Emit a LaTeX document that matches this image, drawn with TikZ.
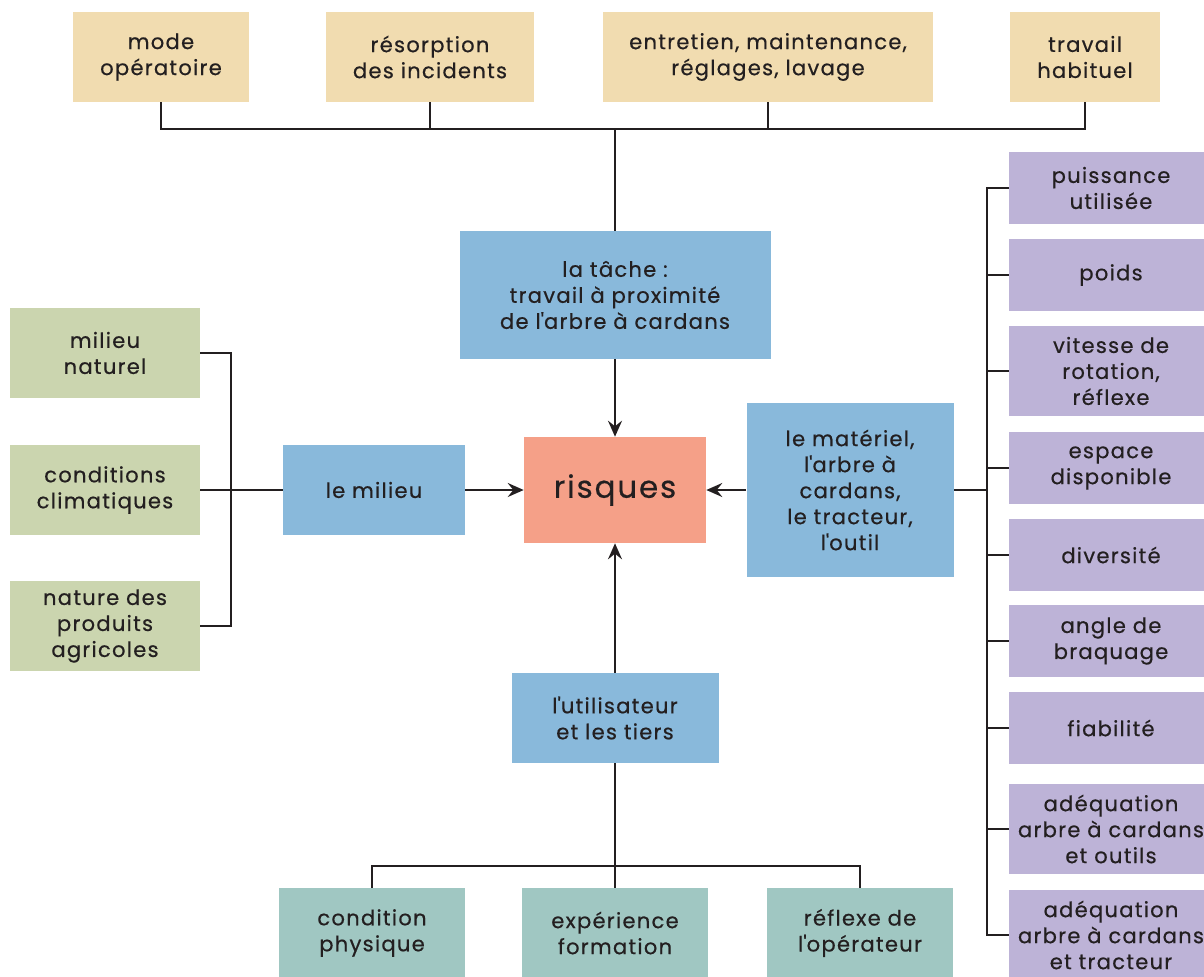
\documentclass[tikz,border=0pt]{standalone}
\usepackage{fontspec}
\setmainfont{Poppins}[LetterSpace=6,FakeBold=0.5]
\usetikzlibrary{arrows.meta}
\usetikzlibrary{positioning}

\definecolor{tan}{HTML}{F1DCB0}
\definecolor{bleu}{HTML}{89B9DB}
\definecolor{saumon}{HTML}{F5A088}
\definecolor{vert}{HTML}{CBD5AF}
\definecolor{mauve}{HTML}{BDB3D7}
\definecolor{canard}{HTML}{A0C7C2}
\definecolor{trait}{HTML}{231F20}
\newcommand{\apos}{\textquotesingle}

\begin{document}
\begin{tikzpicture}[x=0.25mm,y=-0.25mm,
  every node/.style={align=center,inner sep=0pt,text=trait,font=\fontsize{15}{18.5}\selectfont},
  tachebox/.style={fill=tan,minimum height=22.5mm},
  centrebox/.style={fill=bleu},
  milieubox/.style={fill=vert,minimum width=47.5mm,minimum height=22.5mm},
  matbox/.style={fill=mauve,minimum width=51mm,minimum height=17.8mm},
  userbox/.style={fill=canard,minimum width=46.5mm,minimum height=22.5mm},
  lien/.style={draw=trait,line width=1.7pt},
  fleche/.style={lien,-{Stealth[length=4mm,width=3.5mm,inset=1.4mm]}}]
\useasboundingbox (0,0) rectangle (1204,976);

% la tache
\node[tachebox,minimum width=44mm](mode) at (161,57) {mode\\op\'eratoire};
\node[tachebox,minimum width=52mm](resorp) at (430,57) {r\'esorption\\des incidents};
\node[tachebox,minimum width=82.5mm](entret) at (768,57) {entretien, maintenance,\\r\'eglages, lavage};
\node[tachebox,minimum width=37.5mm](habit) at (1085,57) {travail\\habituel};
\node[centrebox,minimum width=77.75mm,minimum height=32mm](tache) at (615,295) {la t\^ache :\\travail \`a proximit\'e\\de l\apos arbre \`a cardans};

% risques
\node[fill=saumon,minimum width=45.5mm,minimum height=26.5mm,font=\fontsize{22}{26}\selectfont](risques) at (615,490) {risques};

% le milieu
\node[centrebox,minimum width=45.5mm,minimum height=22.5mm](milieu) at (374,490) {le milieu};
\node[milieubox](milnat) at (105,353) {milieu\\naturel};
\node[milieubox](climat) at (105,490) {conditions\\climatiques};
\node[milieubox](natprod) at (105,626) {nature des\\produits\\agricoles};

% le materiel
\node[centrebox,minimum width=51.75mm,minimum height=43.5mm](materiel) at (850,490) {le mat\'eriel,\\l\apos arbre \`a\\cardans,\\le tracteur,\\l\apos outil};
\node[matbox](puiss) at (1111,188) {puissance\\utilis\'ee};
\node[matbox](poids) at (1111,275) {poids};
\node[matbox,minimum height=22.5mm](vitesse) at (1111,371) {vitesse de\\rotation,\\r\'eflexe};
\node[matbox](espace) at (1111,468) {espace\\disponible};
\node[matbox](divers) at (1111,555) {diversit\'e};
\node[matbox](angle) at (1111,641) {angle de\\braquage};
\node[matbox](fiab) at (1111,728) {fiabilit\'e};
\node[matbox,minimum height=22.5mm](adeqa) at (1111,829) {ad\'equation\\arbre \`a cardans\\et outils};
\node[matbox,minimum height=22.5mm](adeqb) at (1111,935) {ad\'equation\\arbre \`a cardans\\et tracteur};

% l'utilisateur
\node[centrebox,minimum width=51.75mm,minimum height=22.5mm](util) at (615,718) {l\apos utilisateur\\et les tiers};
\node[userbox](cond) at (372,933) {condition\\physique};
\node[userbox](exper) at (615,933) {exp\'erience\\formation};
\node[userbox](reflexe) at (860,933) {r\'eflexe de\\l\apos op\'erateur};

\coordinate (hautbar) at (615,129);
\coordinate (gauchebar) at (231,490);
\coordinate (droitebar) at (987,490);
\coordinate (basbar) at (615,866);

\draw[lien] (mode.south) |- (hautbar) -| (habit.south);
\draw[lien] (resorp.south) -- (resorp.south |- hautbar);
\draw[lien] (entret.south) -- (entret.south |- hautbar);
\draw[lien] (hautbar) -- (tache.north);
\draw[fleche] (tache.south) -- (risques.north);

\draw[lien] (milnat.east) -| (gauchebar) |- (natprod.east);
\draw[lien] (climat.east) -- (milieu.west);
\draw[fleche] (milieu.east) -- (risques.west);

\draw[lien] (puiss.west) -| (droitebar) |- (adeqb.west);
\foreach \n in {poids,vitesse,espace,divers,angle,fiab,adeqa}
  \draw[lien] (\n.west) -- (\n.west -| droitebar);
\draw[lien] (materiel.east) -- (droitebar);
\draw[fleche] (materiel.west) -- (risques.east);

\draw[fleche] (util.north) -- (risques.south);
\draw[lien] (util.south) -- (basbar);
\draw[lien] (cond.north) |- (basbar) -| (reflexe.north);
\draw[lien] (exper.north) -- (basbar);
\end{tikzpicture}
\end{document}
